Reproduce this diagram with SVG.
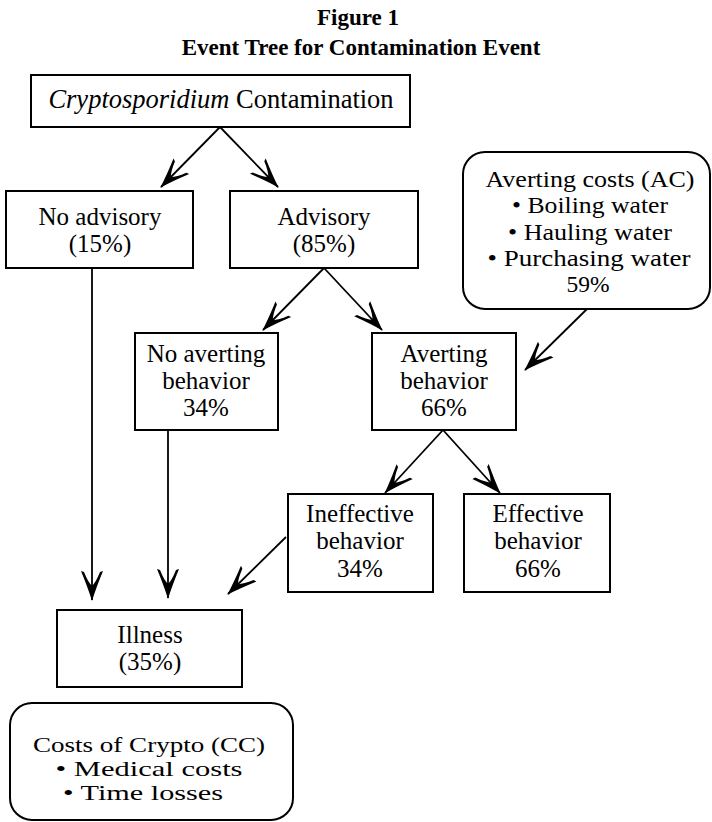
<svg xmlns="http://www.w3.org/2000/svg" width="712" height="822" viewBox="0 0 712 822">
<style>
  .box { fill: #fff; stroke: #000; stroke-width: 2; }
  .t { font-family: "Liberation Serif", "Times New Roman", serif; font-size: 25px; fill: #000; text-anchor: middle; }
  .s { font-size: 23.5px; }
  .c { font-size: 21px; }
  .title { font-family: "Liberation Serif", "Times New Roman", serif; font-size: 23px; font-weight: bold; fill: #000; text-anchor: middle; }
  .conn { stroke: #000; stroke-width: 1.8; fill: none; marker-end: url(#ah); }
</style>
<defs>
  <marker id="ah" viewBox="-32 -12 34 24" refX="0" refY="0" markerWidth="34" markerHeight="24" markerUnits="userSpaceOnUse" orient="auto">
    <path d="M1,0 Q-12,-4 -29,-11 L-28,-8 Q-18,-4 -14,0 Q-18,4 -28,8 L-29,11 Q-12,4 1,0 Z" fill="#000"/>
  </marker>
</defs>
<rect width="712" height="822" fill="#fff"/>
<g id="title">
  <text class="title" x="358" y="25">Figure 1</text>
  <text class="title" x="361" y="55">Event Tree for Contamination Event</text>
</g>
<g id="connectors">
  <path class="conn" d="M220,127 L161,187"/>
  <path class="conn" d="M220,127 L278,187"/>
  <path class="conn" d="M92,268 L92,600"/>
  <path class="conn" d="M324,268 L263,330"/>
  <path class="conn" d="M324,268 L382,330"/>
  <path class="conn" d="M168,430 L168,598"/>
  <path class="conn" d="M587,309 L525,370"/>
  <path class="conn" d="M443,430 L385,493"/>
  <path class="conn" d="M443,430 L500,493"/>
  <path class="conn" d="M286,537 L228,594"/>
</g>
<g id="contamination">
  <rect class="box" x="31" y="75" width="379" height="52"/>
  <text class="t" x="221" y="108" style="font-size:26.5px"><tspan font-style="italic">Cryptosporidium</tspan> Contamination</text>
</g>
<g id="no-advisory">
  <rect class="box" x="6" y="191" width="187" height="77"/>
  <text class="t" x="100" y="225">No advisory</text>
  <text class="t" x="100" y="252">(15%)</text>
</g>
<g id="advisory">
  <rect class="box" x="230" y="191" width="188" height="77"/>
  <text class="t" x="324" y="225">Advisory</text>
  <text class="t" x="324" y="252">(85%)</text>
</g>
<g id="averting-costs">
  <rect class="box" x="463" y="152" width="247" height="157" rx="22" ry="22"/>
  <text class="t s" x="590" y="187" textLength="209" lengthAdjust="spacingAndGlyphs">Averting costs (AC)</text>
  <text class="t s" x="590" y="213" textLength="156" lengthAdjust="spacingAndGlyphs">• Boiling water</text>
  <text class="t s" x="590" y="240" textLength="164" lengthAdjust="spacingAndGlyphs">• Hauling water</text>
  <text class="t s" x="589" y="266" textLength="203" lengthAdjust="spacingAndGlyphs">• Purchasing water</text>
  <text class="t s" x="588" y="292">59%</text>
</g>
<g id="no-averting">
  <rect class="box" x="135" y="333" width="143" height="97"/>
  <text class="t" x="206" y="362">No averting</text>
  <text class="t" x="206" y="389">behavior</text>
  <text class="t" x="206" y="416">34%</text>
</g>
<g id="averting">
  <rect class="box" x="372" y="333" width="144" height="97"/>
  <text class="t" x="444" y="362">Averting</text>
  <text class="t" x="444" y="389">behavior</text>
  <text class="t" x="444" y="416">66%</text>
</g>
<g id="ineffective">
  <rect class="box" x="288" y="494" width="145" height="98"/>
  <text class="t" x="360" y="522">Ineffective</text>
  <text class="t" x="360" y="549">behavior</text>
  <text class="t" x="360" y="577">34%</text>
</g>
<g id="effective">
  <rect class="box" x="464" y="494" width="146" height="98"/>
  <text class="t" x="538" y="522">Effective</text>
  <text class="t" x="538" y="549">behavior</text>
  <text class="t" x="538" y="577">66%</text>
</g>
<g id="illness">
  <rect class="box" x="57" y="610" width="185" height="77"/>
  <text class="t" x="150" y="643">Illness</text>
  <text class="t" x="150" y="670">(35%)</text>
</g>
<g id="costs-crypto">
  <rect class="box" x="10" y="703" width="283" height="117" rx="22" ry="22"/>
  <text class="t c" x="149" y="752" textLength="232" lengthAdjust="spacingAndGlyphs">Costs of Crypto (CC)</text>
  <text class="t c" x="149" y="776" textLength="187" lengthAdjust="spacingAndGlyphs">• Medical costs</text>
  <text class="t c" x="143" y="800" textLength="160" lengthAdjust="spacingAndGlyphs">• Time losses</text>
</g>
</svg>
